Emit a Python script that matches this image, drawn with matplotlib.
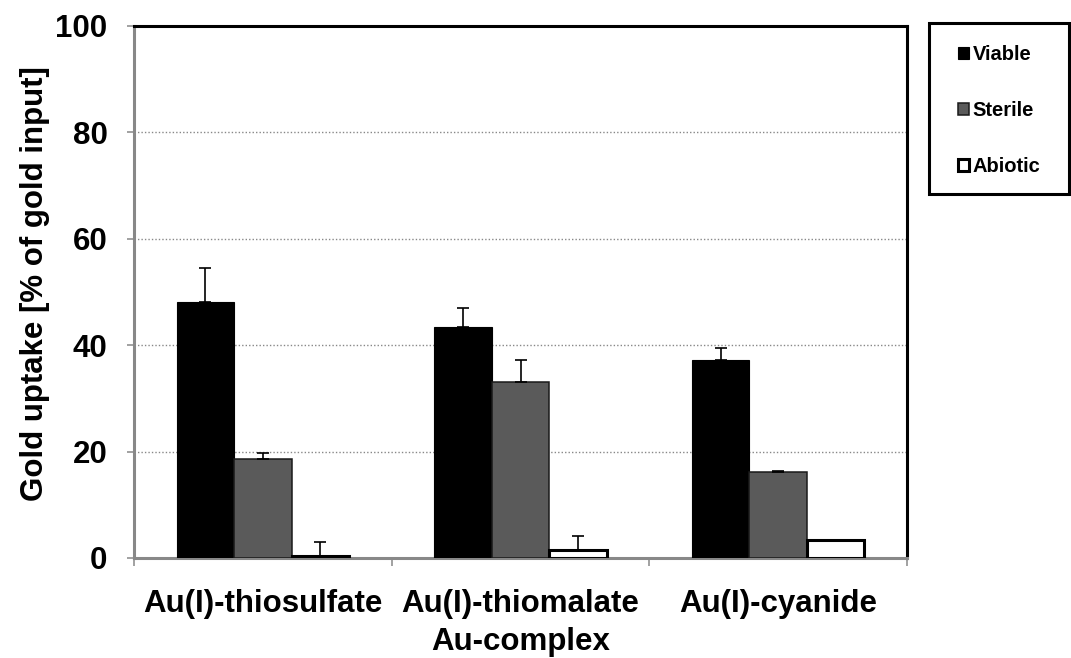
import matplotlib.pyplot as plt
from matplotlib.patches import Rectangle
import numpy as np

plt.rcParams['font.family'] = ['Liberation Sans', 'DejaVu Sans']
plt.rcParams['font.weight'] = 'bold'

complexes = ['Au(I)-thiosulfate', 'Au(I)-thiomalate', 'Au(I)-cyanide']
series = ['Viable', 'Sterile', 'Abiotic']
viable = [48.1, 43.4, 37.2]
viable_err = [6.4, 3.6, 2.3]
sterile = [18.7, 33.0, 16.2]
sterile_err = [1.0, 4.2, 0.2]
abiotic = [0.3, 1.5, 3.4]
abiotic_err = [2.7, 2.6, 0.0]

values = [viable, sterile, abiotic]
errors = [viable_err, sterile_err, abiotic_err]
faces = ['#000000', '#5a5a5a', '#ffffff']
edges = ['#000000', '#1a1a1a', '#000000']
widths = [0.8, 1.1, 2.2]

fig = plt.figure(figsize=(10.71, 6.58), dpi=100)
ax = fig.add_axes([0.1251, 0.152, 0.7218, 0.8085])

x = np.arange(len(complexes))
bw = 0.223
for i, (vals, errs) in enumerate(zip(values, errors)):
    pos = x + (i - 1) * bw
    ax.bar(pos, vals, width=bw, color=faces[i], edgecolor=edges[i],
           linewidth=widths[i], label=series[i], zorder=3)
    ax.errorbar(pos, vals, yerr=[np.zeros(len(errs)), errs], fmt='none',
                ecolor='black', elinewidth=1.2, capsize=4.3, capthick=1.2,
                zorder=4)

ax.set_xlim(-0.5, 2.5)
ax.set_ylim(0, 100)
ax.set_yticks([0, 20, 40, 60, 80, 100])
ax.set_xticks(x)
ax.set_xticklabels(complexes)
ax.set_xticks([-0.5, 0.5, 1.5, 2.5], minor=True)

ax.tick_params(axis='y', direction='out', length=5, width=1.1, color='#888888',
               labelsize=22.5, pad=14)
ax.tick_params(axis='x', which='major', length=0, labelsize=22.5, pad=22)
ax.tick_params(axis='x', which='minor', direction='out', length=5.5, width=1.1,
               color='#888888')

for lbl in ax.get_xticklabels() + ax.get_yticklabels():
    lbl.set_fontweight('bold')

ax.yaxis.grid(True, linestyle=(0, (1, 1.5)), color='#888888', linewidth=1.0, zorder=0)
ax.set_axisbelow(True)

for s in ['top', 'right']:
    ax.spines[s].set_color('black')
    ax.spines[s].set_linewidth(2.2)
for s in ['left', 'bottom']:
    ax.spines[s].set_color('#888888')
    ax.spines[s].set_linewidth(2.2)

ax.set_xlabel('Au-complex', fontsize=22.5, fontweight='bold', labelpad=6)
ax.set_ylabel('Gold uptake [% of gold input]', fontsize=22.5, fontweight='bold')
ax.yaxis.set_label_coords(-0.109, 0.515)

# legend frame drawn separately so its size can match the original box
fig.patches.append(Rectangle((0.8674, 0.7052), 0.1307, 0.2599, transform=fig.transFigure,
                             facecolor='white', edgecolor='black', linewidth=2.2,
                             zorder=1))
leg = fig.legend(loc='center', bbox_to_anchor=(0.9328, 0.8321),
                 fontsize=14.5, frameon=False,
                 handlelength=0.55, handleheight=0.55, handletextpad=0.2,
                 labelspacing=1.85, borderpad=0, borderaxespad=0)
for t in leg.get_texts():
    t.set_fontweight('bold')

fig.savefig('out.png', dpi=100)
